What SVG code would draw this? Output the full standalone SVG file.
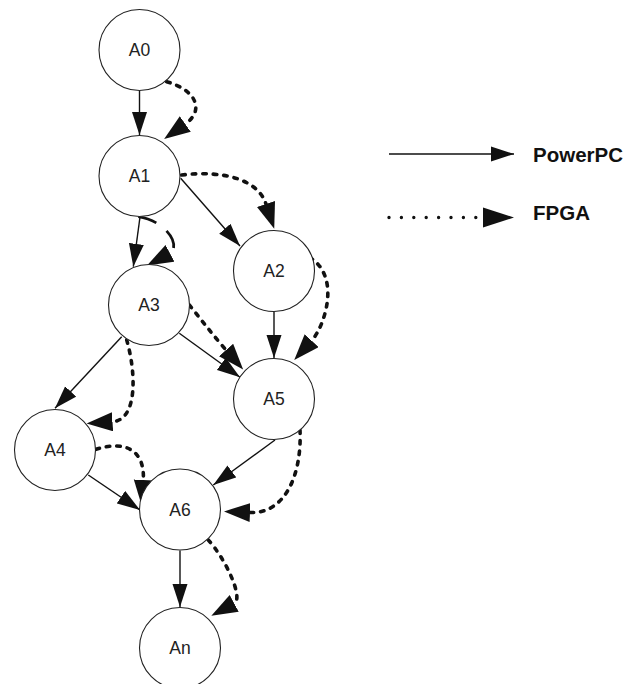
<svg xmlns="http://www.w3.org/2000/svg" width="638" height="684" viewBox="0 0 638 684">
<style>
.node circle{fill:#fff;stroke:#222;stroke-width:1.1}
.node text{font-family:"Liberation Sans",Arial,sans-serif;font-size:17.5px;text-anchor:middle;fill:#222}
.pp{fill:none;stroke:#111;stroke-width:1.4;marker-end:url(#ah)}
.fp{fill:none;stroke:#111;stroke-width:3.6;stroke-linecap:round;stroke-dasharray:3.5 7;marker-end:url(#ahd)}
.fp.long{stroke-width:2.8;stroke-linecap:butt;stroke-dasharray:19 13}
.lg{font-family:"Liberation Sans",Arial,sans-serif;font-size:20.5px;font-weight:bold;fill:#111}
</style>
<defs>
<marker id="ah" markerUnits="userSpaceOnUse" markerWidth="24" markerHeight="16" refX="23" refY="8" orient="auto"><path d="M0,0.5 L23,8 L0,15.5 z" fill="#111"/></marker>
<marker id="ahd" markerUnits="userSpaceOnUse" markerWidth="27" markerHeight="20" refX="0" refY="9.5" orient="auto"><path d="M0,0 L26,9.5 L0,19 z" fill="#111"/></marker>
</defs>
<g id="connectors">
<path class="pp" d="M139.5,90.5 L139.5,135"/>
<path class="pp" d="M140,217 L133.3,266.7"/>
<path class="pp" d="M180.7,178.3 L240,246"/>
<path class="pp" d="M274,312 L274,358"/>
<path class="pp" d="M179.3,333.3 L240,377.3"/>
<path class="pp" d="M121.7,336.7 L55,408.3"/>
<path class="pp" d="M88.3,475 L140,510"/>
<path class="pp" d="M275,440 L213.3,485"/>
<path class="pp" d="M180,550.5 L180,607"/>
<path class="fp" d="M166.7,81.7 C196,90 205,110 185.3,124"/>
<path class="fp" d="M181.7,175 C225,170 258,180 266,204"/>
<path class="fp long" d="M138.3,216.7 C170,222 180,248 170,253.3"/>
<path class="fp" d="M300,253 C345,268 325,326 311.7,340.7"/>
<path class="fp" d="M189.3,305 C200,318 212,334 226,350"/>
<path class="fp" d="M126.7,340 C136,372 138,420 112.5,421.7"/>
<path class="fp" d="M96,449.3 C125,440 145,450 143.3,480"/>
<path class="fp" d="M300,430 C302,475 285,514 250,512.5"/>
<path class="fp" d="M208.3,540 C225,558 244,598 234.2,603.3"/>
</g>
<g id="A0" class="node"><circle cx="139.5" cy="50" r="40.5"/><text x="139.5" y="56.3">A0</text></g>
<g id="A1" class="node"><circle cx="139.5" cy="176" r="40.5"/><text x="139.5" y="182.3">A1</text></g>
<g id="A2" class="node"><circle cx="274" cy="271" r="40.5"/><text x="274" y="277.3">A2</text></g>
<g id="A3" class="node"><circle cx="149" cy="305" r="40.5"/><text x="149" y="311.3">A3</text></g>
<g id="A5" class="node"><circle cx="274" cy="399" r="40.5"/><text x="274" y="405.3">A5</text></g>
<g id="A4" class="node"><circle cx="55" cy="450" r="40.5"/><text x="55" y="456.3">A4</text></g>
<g id="A6" class="node"><circle cx="180" cy="509.5" r="40.5"/><text x="180" y="515.8">A6</text></g>
<g id="An" class="node"><circle cx="180" cy="648" r="40.5"/><text x="180" y="654.3">An</text></g>
<g id="legend">
<line x1="389" y1="154" x2="514" y2="154" stroke="#111" stroke-width="1.4" marker-end="url(#ah)"/>
<text class="lg" x="533" y="162">PowerPC</text>
<line x1="389" y1="217.5" x2="478" y2="217.5" stroke="#111" stroke-width="3.4" stroke-linecap="round" stroke-dasharray="0 12.4"/>
<polygon points="483,207.5 514,217.5 483,227.5" fill="#111"/>
<text class="lg" x="533" y="219.5">FPGA</text>
</g>
</svg>
